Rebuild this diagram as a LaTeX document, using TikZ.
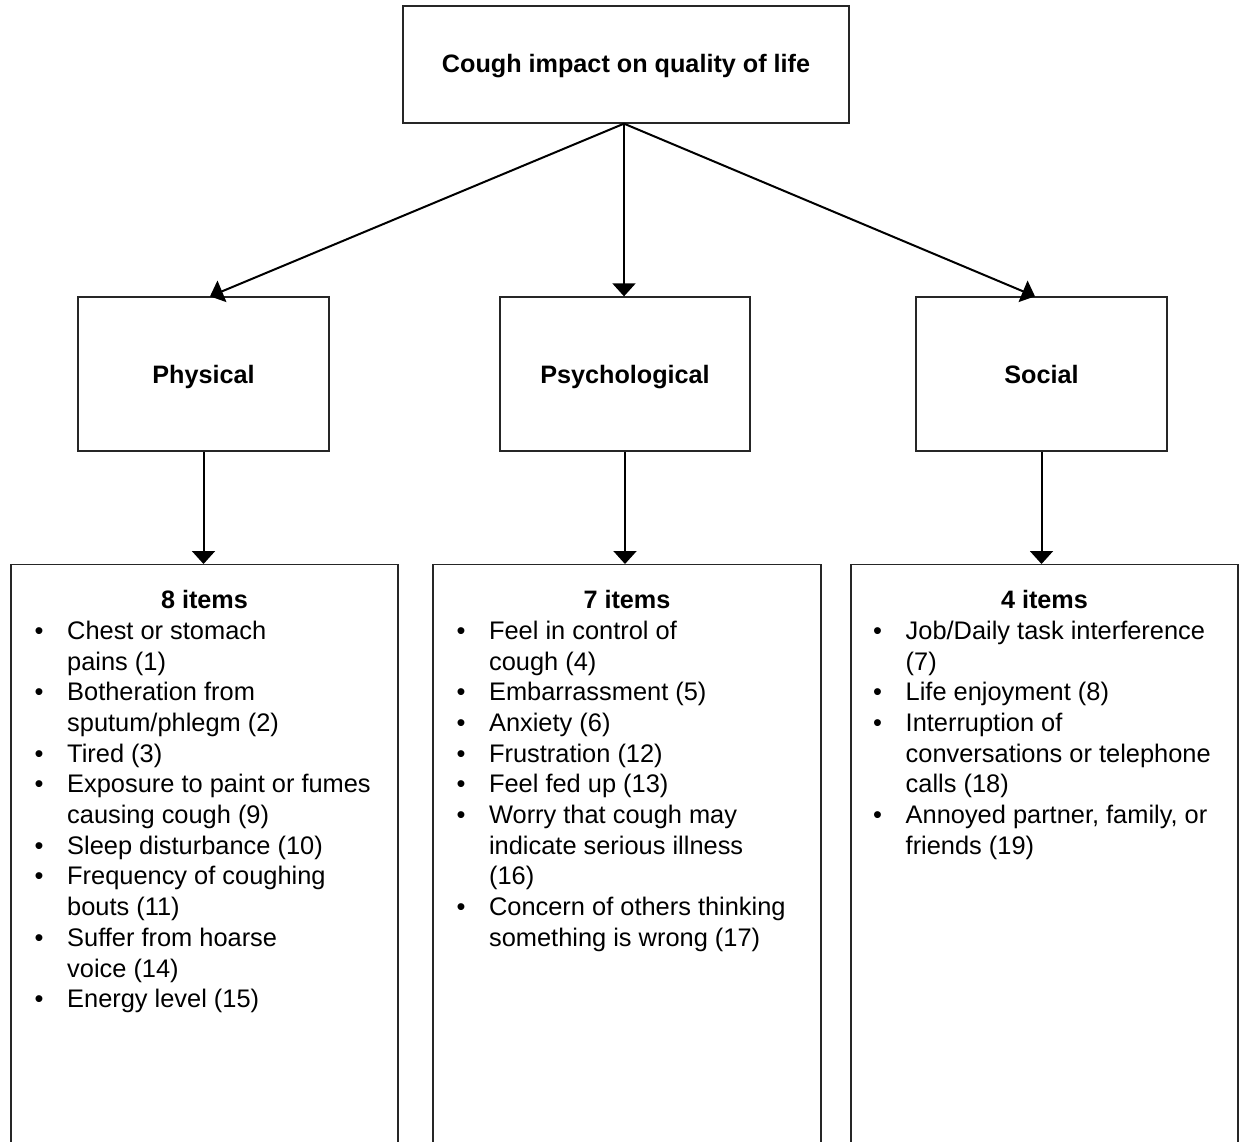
\documentclass[tikz,border=0pt]{standalone}
\usepackage{fontspec}
\setmainfont{Liberation Sans}
\usetikzlibrary{arrows.meta,calc}
\newcommand\itm{\makebox[32.5pt][l]{\textbullet}}
\begin{document}
\begin{tikzpicture}[x=1pt,y=-1pt,
  box/.style={draw=black!85,line width=1.3pt,inner sep=0pt},
  head/.style={inner sep=0pt,anchor=base,font=\fontsize{25.2}{30.7}\selectfont\bfseries},
  lst/.style={anchor=base west,inner sep=0pt,font=\fontsize{25.4}{30.7}\selectfont},
  arr/.style={line width=2pt,-{Triangle[width=23pt,length=13pt]}}]
\useasboundingbox (0,0) rectangle (1239,1141);
\clip (0,0) rectangle (1239,1141);
% top
\node[box,minimum width=446pt,minimum height=117pt] (top) at (626,64.5) {};
\node[head] (toptxt) at (626,72.5) {Cough impact on quality of life};
% middle
\node[box,minimum width=251pt,minimum height=154pt] (phys) at (203.5,374) {};
\node[box,minimum width=250pt,minimum height=154pt] (psy) at (625,374) {};
\node[box,minimum width=251pt,minimum height=154pt] (soc) at (1041.5,374) {};
\node[head] (physt) at (203.5,383.5) {Physical};
\node[head] (psyt) at (625,383.5) {Psychological};
\node[head] (soct) at (1041.5,383.5) {Social};
% bottom
\node[box,anchor=north,minimum width=387pt,minimum height=620pt] (plist) at (204.5,564) {};
\node[box,anchor=north,minimum width=388pt,minimum height=620pt] (ylist) at (627,564) {};
\node[box,anchor=north,minimum width=387pt,minimum height=620pt] (slist) at (1044.5,564) {};
\node[head] (pn) at (204.5,608.6) {8 items};
\node[head] (yn) at (627,608.6) {7 items};
\node[head] (sn) at (1044.5,608.6) {4 items};
\node[lst] (pitems) at (34.5,639.3) {\begin{tabular}[t]{@{}l@{}l@{}}
\itm & Chest or stomach\\ & pains (1)\\
\itm & Botheration from\\ & sputum/phlegm (2)\\
\itm & Tired (3)\\
\itm & Exposure to paint or fumes\\ & causing cough (9)\\
\itm & Sleep disturbance (10)\\
\itm & Frequency of coughing\\ & bouts (11)\\
\itm & Suffer from hoarse\\ & voice (14)\\
\itm & Energy level (15)
\end{tabular}};
\node[lst] (yitems) at (456.4,639.3) {\begin{tabular}[t]{@{}l@{}l@{}}
\itm & Feel in control of\\ & cough (4)\\
\itm & Embarrassment (5)\\
\itm & Anxiety (6)\\
\itm & Frustration (12)\\
\itm & Feel fed up (13)\\
\itm & Worry that cough may\\ & indicate serious illness\\ & (16)\\
\itm & Concern of others thinking\\ & something is wrong (17)
\end{tabular}};
\node[lst] (sitems) at (873,639.3) {\begin{tabular}[t]{@{}l@{}l@{}}
\itm & Job/Daily task interference\\ & (7)\\
\itm & Life enjoyment (8)\\
\itm & Interruption of\\ & conversations or telephone\\ & calls (18)\\
\itm & Annoyed partner, family, or\\ & friends (19)
\end{tabular}};
% connectors
\coordinate (hub) at ($(top.south)+(-2,0)$);
\draw[arr] (hub) -- ($(phys.north)+(6.5,0)$);
\draw[arr] (hub) -- (hub |- psy.north);
\draw[arr] (hub) -- ($(soc.north)+(-6.5,0)$);
\draw[arr] (phys.south) -- (phys.south |- plist.north);
\draw[arr] (psy.south) -- (psy.south |- ylist.north);
\draw[arr] (soc.south) -- (soc.south |- slist.north);
\end{tikzpicture}
\end{document}
